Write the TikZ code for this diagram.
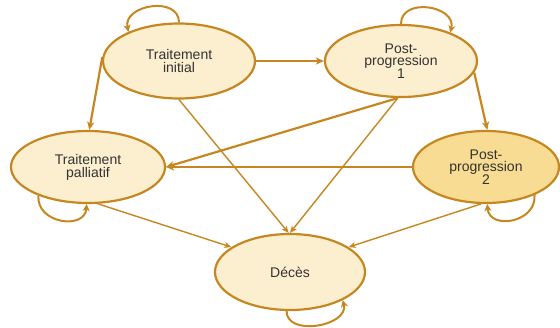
\documentclass[tikz,border=0pt]{standalone}
\usepackage{fontspec}
\setmainfont{Liberation Sans}
\usetikzlibrary{shapes.geometric,arrows.meta}
\definecolor{edgecol}{HTML}{C68721}
\definecolor{lightfill}{HTML}{FCEFCF}
\definecolor{darkfill}{HTML}{F9DC93}
\definecolor{txt}{HTML}{333333}
\tikzset{
  state/.style={ellipse,draw=edgecol,line width=2.2pt,fill=lightfill,inner sep=0pt,
    align=center,text=txt,font=\fontsize{14}{12.8}\selectfont},
  thick edge/.style={draw=edgecol,line width=2.2pt,-{Stealth[length=8pt,width=7pt,inset=2pt]}},
  thin edge/.style={draw=edgecol,line width=1.4pt,-{Stealth[length=7pt,width=6pt,inset=2pt]}},
  loop edge/.style={draw=edgecol,line width=2pt,-{Stealth[length=7pt,width=7pt,inset=2pt]}}
}
\begin{document}
\begin{tikzpicture}[x=1pt,y=-1pt]
\path[use as bounding box] (0,0) rectangle (560,327);
\node[state,minimum width=152pt,minimum height=75pt] (ti) at (179,61) {Traitement\\initial};
\node[state,minimum width=152pt,minimum height=72pt] (pp1) at (401,61) {Post-\\progression\\1};
\node[state,minimum width=154pt,minimum height=72pt] (tp) at (88,167) {Traitement\\palliatif};
\node[state,fill=darkfill,minimum width=146pt,minimum height=72pt] (pp2) at (486,167) {Post-\\progression\\2};
\node[state,minimum width=150pt,minimum height=76pt] (dc) at (290,272) {Décès};

% thick transitions
\draw[thick edge] (ti.east) -- (pp1.west);
\draw[thick edge] (ti.177) -- (tp.88);
\draw[thick edge] (pp1.-9) -- (pp2.88);
\draw[thick edge] (pp1.265) -- (tp.east);
\draw[thick edge] (pp2.west) -- (tp.east);

% thin transitions to death
\draw[thin edge] (ti.south) -- (dc.92);
\draw[thin edge] (pp1.265) -- (dc.90);
\draw[thin edge] (tp.285) -- (dc.157);
\draw[thin edge] (pp2.262) -- (dc.23);

% self loops
\draw[loop edge] (ti.north) .. controls +(0,-27) and +(-6,-27) .. (ti.150);
\draw[loop edge] (pp1.north) .. controls +(0,-27) and +(6,-27) .. (pp1.30);
\draw[loop edge] (tp.210) .. controls +(-2,28) and +(-2,26) .. (tp.268);
\draw[loop edge] (pp2.330) .. controls +(2,28) and +(2,26) .. (pp2.272);
\draw[loop edge] (dc.265) .. controls +(0,26) and +(6,26) .. (dc.332);
\end{tikzpicture}
\end{document}
